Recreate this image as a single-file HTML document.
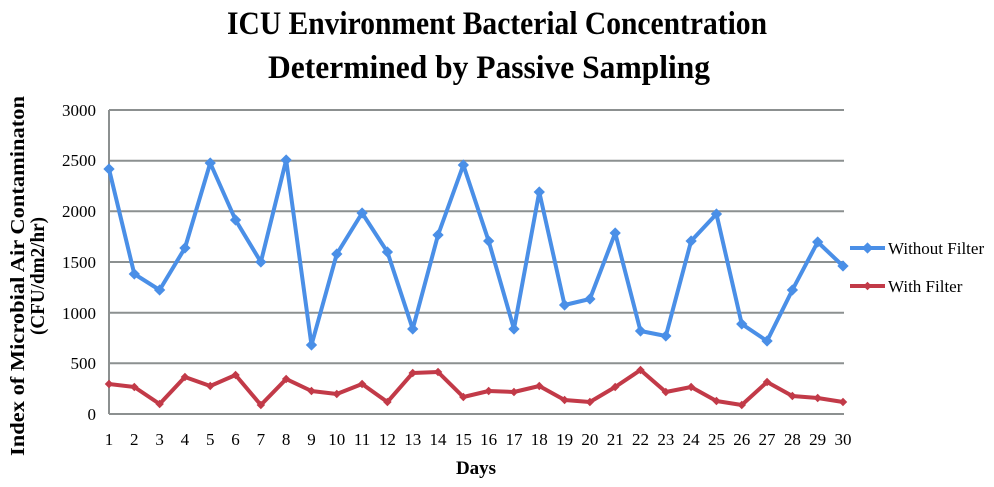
<!DOCTYPE html>
<html><head><meta charset="utf-8"><style>body{margin:0;background:#fff}svg{display:block}</style></head><body>
<svg width="994" height="487" viewBox="0 0 994 487" font-family="Liberation Serif, serif">
<text x="497" y="34" text-anchor="middle" font-size="33" font-weight="bold" textLength="540" lengthAdjust="spacingAndGlyphs">ICU Environment Bacterial Concentration</text>
<text x="489" y="78" text-anchor="middle" font-size="33" font-weight="bold" textLength="442" lengthAdjust="spacingAndGlyphs">Determined by Passive Sampling</text>
<g stroke="#8c9090" stroke-width="2">
<line x1="109" y1="110" x2="844" y2="110"/><line x1="109" y1="160.7" x2="844" y2="160.7"/><line x1="109" y1="211.3" x2="844" y2="211.3"/><line x1="109" y1="262" x2="844" y2="262"/><line x1="109" y1="312.7" x2="844" y2="312.7"/><line x1="109" y1="363.3" x2="844" y2="363.3"/><line x1="109" y1="414" x2="844" y2="414"/><line x1="109" y1="110" x2="109" y2="414"/>
</g>
<g font-size="17" text-anchor="end">
<text x="96" y="116">3000</text><text x="96" y="166">2500</text><text x="96" y="217">2000</text><text x="96" y="268">1500</text><text x="96" y="319">1000</text><text x="96" y="369">500</text><text x="96" y="420">0</text>
</g>
<g font-size="17" text-anchor="middle" id="xl"></g>
<text x="476" y="474" text-anchor="middle" font-size="19" font-weight="bold">Days</text>
<g transform="translate(24,276) rotate(-90)" font-size="20" font-weight="bold" text-anchor="middle">
<text x="0" y="0" textLength="360" lengthAdjust="spacingAndGlyphs">Index of Microbial Air Contaminaton</text>
<text x="0" y="20" textLength="118" lengthAdjust="spacingAndGlyphs">(CFU/dm2/hr)</text>
</g>
<polyline id="b" fill="none" stroke="#4a8fe7" stroke-width="4" stroke-linejoin="round"/>
<polyline id="r" fill="none" stroke="#c23a48" stroke-width="4" stroke-linejoin="round"/>
<g id="m"></g>
<line x1="850" y1="248" x2="885" y2="248" stroke="#4a8fe7" stroke-width="4"/>
<rect x="863.5" y="244" width="8" height="8" fill="#4a8fe7" transform="rotate(45 867.5 248)"/>
<text x="888" y="254" font-size="17">Without Filter</text>
<line x1="850" y1="286" x2="885" y2="286" stroke="#c23a48" stroke-width="4"/>
<rect x="864.5" y="283" width="6" height="6" fill="#c23a48" transform="rotate(45 867.5 286)"/>
<text x="888" y="292" font-size="17">With Filter</text>
</svg>
<script>
var B=[169,274,290,248,163,220,262,160,345,254,213,252,329,235,165,241,329,192,305,299,233,331,336,241,214,324,341,290,242,266];
var R=[384,387,404,377,386,375,405,379,391,394,384,402,373,372,397,391,392,386,400,402,387,370,392,387,401,405,382,396,398,402];
var ns="http://www.w3.org/2000/svg",pb=[],pr=[],m=document.getElementById('m'),xl=document.getElementById('xl');
function mk(x,y,c,s){var r=document.createElementNS(ns,'rect');r.setAttribute('x',x-s/2);r.setAttribute('y',y-s/2);r.setAttribute('width',s);r.setAttribute('height',s);r.setAttribute('fill',c);r.setAttribute('transform','rotate(45 '+x+' '+y+')');m.appendChild(r);}
for(var i=0;i<30;i++){var x=109+i*25.31;pb.push(x+','+B[i]);pr.push(x+','+R[i]);mk(x,B[i],'#4a8fe7',8);mk(x,R[i],'#c23a48',6);
var t=document.createElementNS(ns,'text');t.setAttribute('x',x);t.setAttribute('y',445);t.textContent=i+1;xl.appendChild(t);}
document.getElementById('b').setAttribute('points',pb.join(' '));
document.getElementById('r').setAttribute('points',pr.join(' '));
</script>
</body></html>
